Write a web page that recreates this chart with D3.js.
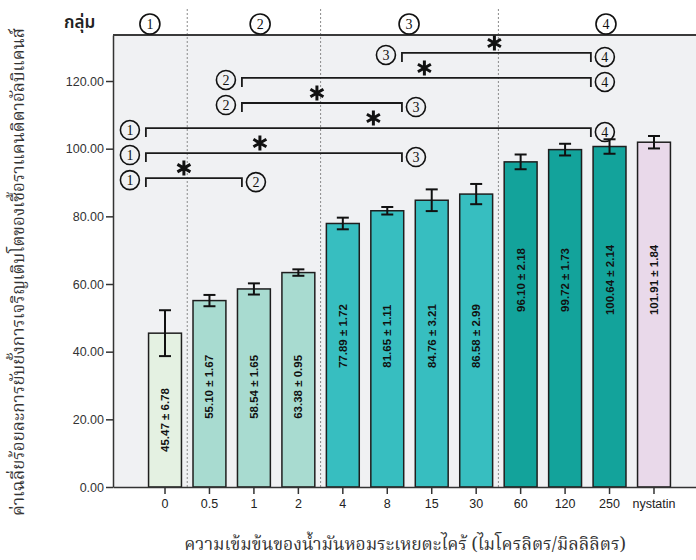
<!DOCTYPE html>
<html>
<head>
<meta charset="utf-8">
<script src="https://cdn.jsdelivr.net/npm/d3@7"></script>
<style>
  html, body { margin: 0; padding: 0; background: #ffffff; }
  svg { display: block; }
  .thai { font-family: "Noto Sans Thai", "Loma", "Garuda", sans-serif; }
  .thai-serif { font-family: "Noto Serif Thai", "Norasi", "Tlwg Typo", "Noto Sans Thai", serif; }
</style>
</head>
<body>
<svg id="chart" width="696" height="560"></svg>
<script>
// Concentrations of lemongrass essential oil (µL/mL) plus the nystatin control
const categories = ["0", "0.5", "1", "2", "4", "8", "15", "30", "60", "120", "250", "nystatin"];
// Mean percent inhibition of Candida albicans growth
const means = [45.47, 55.10, 58.54, 63.38, 77.89, 81.65, 84.76, 86.58, 96.10, 99.72, 100.64, 101.91];
// Standard deviations
const sds = [6.78, 1.67, 1.65, 0.95, 1.72, 1.11, 3.21, 2.99, 2.18, 1.73, 2.14, 1.84];
// Statistical group of each bar (0 = positive control)
const groupOf = [1, 2, 2, 2, 3, 3, 3, 3, 4, 4, 4, 0];
const groupIds = [1, 2, 3, 4];
// Significant pairwise differences between groups
const comparisons = [[1, 2], [1, 3], [1, 4], [2, 3], [2, 4], [3, 4]];
const yTicks = [0, 20, 40, 60, 80, 100, 120];

const yTitle = "ค่าเฉลี่ยร้อยละการยับยั้งการเจริญเติบโตของเชื้อราแคนดิดาอัลบิแคนส์";
const xTitle = "ความเข้มข้นของน้ำมันหอมระเหยตะไคร้ (ไมโครลิตร/มิลลิลิตร)";
const groupWord = "กลุ่ม";

// ---- layout ----
const W = 696, H = 560;
const plot = { left: 113, right: 706, top: 35, bottom: 487 };
const fills = { 0: "#e9d9ea", 1: "#e4f1e2", 2: "#a8dbd0", 3: "#37bec0", 4: "#13a39b" };
// vertical centre of the value labels, per group, in axis units
const labelMid = { 0: 61.2, 1: 19.8, 2: 29.6, 3: 44.6, 4: 61.2 };
// where the group numbers sit along the x axis (in bar-index units)
const groupLabelAt = { 1: -0.34, 2: 2.14, 3: 5.49, 4: 9.92 };
// where comparison brackets start / end for each group (bar-index units)
const bracketAt = { 1: -0.43, 2: 1.73, 3: 5.33, 4: 9.58 };
const starShift = [-10, -14, 5, -5, 8, -2];

const svg = d3.select("#chart");

const x = d3.scaleBand()
  .domain(categories)
  .range([plot.left, plot.right])
  .paddingInner(0.26)
  .paddingOuter(0.8);

const y = d3.scaleLinear()
  .domain([0, 133.6])
  .range([plot.bottom, plot.top]);

// bar-index -> pixel helper built from the band scale
const idx = d3.scaleLinear()
  .domain([0, 1])
  .range([x(categories[0]) + x.bandwidth() / 2, x(categories[1]) + x.bandwidth() / 2]);

// plot background
svg.append("rect")
  .attr("x", plot.left).attr("y", plot.top)
  .attr("width", plot.right - plot.left).attr("height", plot.bottom - plot.top)
  .attr("fill", "#f0f1f3");

// dotted group separators
const sepIdx = [0.5, 3.5, 7.5];
svg.append("g").selectAll("line").data(sepIdx).join("line")
  .attr("x1", d => idx(d)).attr("x2", d => idx(d))
  .attr("y1", 9).attr("y2", plot.bottom)
  .attr("stroke", "#8a8a8a").attr("stroke-width", 1)
  .attr("stroke-dasharray", "2,2");

// bars
const data = categories.map((c, i) => ({ c, m: means[i], sd: sds[i], g: groupOf[i] }));
svg.append("g").selectAll("rect").data(data).join("rect")
  .attr("x", d => x(d.c))
  .attr("y", d => y(d.m))
  .attr("width", x.bandwidth())
  .attr("height", d => y(0) - y(d.m))
  .attr("fill", d => fills[d.g])
  .attr("stroke", "#1e1e1e").attr("stroke-width", 1.5);

// value labels inside bars
const fmt = d3.format(".2f");
svg.append("g").selectAll("text").data(data).join("text")
  .attr("transform", d => `translate(${x(d.c) + x.bandwidth() / 2 + 4},${y(labelMid[d.g])}) rotate(-90)`)
  .attr("text-anchor", "middle")
  .attr("font-family", "Liberation Sans, Arial, sans-serif")
  .attr("font-weight", "bold")
  .attr("font-size", 11.5)
  .attr("fill", "#111")
  .text(d => `${fmt(d.m)} ± ${fmt(d.sd)}`);

// error bars
const eb = svg.append("g").attr("stroke", "#111").attr("stroke-width", 2);
data.forEach(d => {
  const cx = x(d.c) + x.bandwidth() / 2;
  eb.append("line").attr("x1", cx).attr("x2", cx).attr("y1", y(d.m - d.sd)).attr("y2", y(d.m + d.sd));
  eb.append("line").attr("x1", cx - 6).attr("x2", cx + 6).attr("y1", y(d.m - d.sd)).attr("y2", y(d.m - d.sd));
  eb.append("line").attr("x1", cx - 6).attr("x2", cx + 6).attr("y1", y(d.m + d.sd)).attr("y2", y(d.m + d.sd));
});

// axes
const yAxis = svg.append("g")
  .attr("transform", `translate(${plot.left},0)`)
  .call(d3.axisLeft(y).tickValues(yTicks).tickFormat(d3.format(".2f")).tickSize(7).tickSizeOuter(0).tickPadding(2));
yAxis.selectAll("text").attr("font-family", "Liberation Sans, Arial, sans-serif").attr("font-size", 12.5).attr("fill", "#333");
yAxis.selectAll("line").attr("stroke", "#333").attr("stroke-width", 1.5);
yAxis.select(".domain").attr("stroke", "#333").attr("stroke-width", 1.5);

const xAxis = svg.append("g")
  .attr("transform", `translate(0,${plot.bottom})`)
  .call(d3.axisBottom(x).tickSize(7).tickSizeOuter(0).tickPadding(5));
xAxis.selectAll("text").attr("font-family", "Liberation Sans, Arial, sans-serif").attr("font-size", 12.5).attr("fill", "#222");
xAxis.selectAll("line").attr("stroke", "#333").attr("stroke-width", 1.5);
xAxis.select(".domain").attr("stroke", "#333").attr("stroke-width", 1.5);

// top frame line
svg.append("line")
  .attr("x1", plot.left).attr("x2", plot.right)
  .attr("y1", plot.top).attr("y2", plot.top)
  .attr("stroke", "#3a3a3a").attr("stroke-width", 2);

// circled group number
function circled(g, cx, cy, label, r) {
  g.append("circle").attr("cx", cx).attr("cy", cy).attr("r", r)
    .attr("fill", "none").attr("stroke", "#111").attr("stroke-width", 1.6);
  g.append("text").attr("x", cx).attr("y", cy + 5)
    .attr("text-anchor", "middle")
    .attr("font-family", "Liberation Serif, Times New Roman, serif")
    .attr("font-size", 14).attr("fill", "#111")
    .text(label);
}

// group header
const header = svg.append("g");
groupIds.forEach(gid => circled(header, idx(groupLabelAt[gid]), 24, String(gid), 10));
svg.append("text")
  .attr("class", "thai")
  .attr("x", 64).attr("y", 28)
  .attr("font-size", 17).attr("font-weight", 600).attr("fill", "#222")
  .text(groupWord);

// significance brackets
function asterisk(g, cx, cy, r) {
  const p = d3.path();
  for (let k = 0; k < 3; k++) {
    const a = Math.PI / 2 + k * Math.PI / 3;
    p.moveTo(cx + r * Math.cos(a), cy + r * Math.sin(a));
    p.lineTo(cx - r * Math.cos(a), cy - r * Math.sin(a));
  }
  g.append("path").attr("d", p.toString()).attr("stroke", "#111").attr("stroke-width", 3).attr("fill", "none");
}

const br = svg.append("g");
comparisons.forEach(([a, b], k) => {
  const level = 91.3 + k * 7.4;
  const ly = y(level);
  const x1 = idx(bracketAt[a]);
  const x2 = idx(bracketAt[b]);
  br.append("path")
    .attr("d", `M${x1},${ly + 9}V${ly}H${x2}V${ly + 9}`)
    .attr("fill", "none").attr("stroke", "#1a1a1a").attr("stroke-width", 1.8);
  circled(br, x1 - 16, ly + 2, String(a), 9.5);
  circled(br, x2 + 14, ly + 4, String(b), 9.5);
  asterisk(br, (x1 + x2) / 2 + starShift[k], ly - 10, 7.5);
});

// axis titles
svg.append("text")
  .attr("class", "thai-serif")
  .attr("transform", `translate(24,${272}) rotate(-90)`)
  .attr("text-anchor", "middle")
  .attr("font-size", 17).attr("fill", "#333")
  .text(yTitle);

svg.append("text")
  .attr("class", "thai-serif")
  .attr("x", 405).attr("y", 550)
  .attr("text-anchor", "middle")
  .attr("font-size", 17.5).attr("fill", "#333")
  .text(xTitle);
</script>
</body>
</html>
